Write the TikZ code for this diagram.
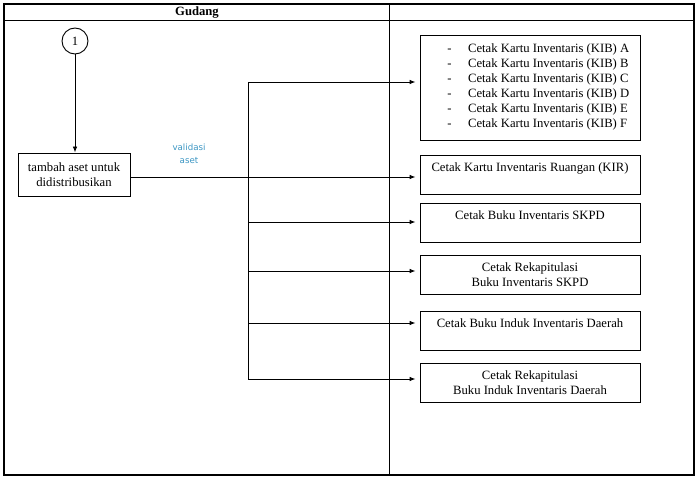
\documentclass[tikz,border=0pt]{standalone}
\usepackage{fontspec}
\setmainfont{Liberation Serif}
\newfontfamily\lblfont{DejaVu Sans}
\usetikzlibrary{arrows.meta}
\definecolor{lblblue}{RGB}{60,150,195}
\begin{document}
\begin{tikzpicture}[x=0.75pt,y=-0.75pt,
  txt/.style={font=\fontsize{9.5}{11.25}\selectfont},
  box/.style={draw, line width=0.7pt, minimum width=165pt, minimum height=29.25pt, align=center, inner sep=2pt, txt},
  conn/.style={line width=0.7pt},
  arr/.style={conn, -{Latex[length=4.5pt,width=3.5pt]}},
  frame/.style={line width=1.1pt},
  divider/.style={line width=0.7pt}]
\useasboundingbox (0,0) rectangle (699,484);
% frame
\draw[frame] (4,4) rectangle (694,475);
\draw[divider] (4,20) -- (694,20);
\draw[divider] (389,4) -- (389,475);
\node[font=\fontsize{9.5}{11}\selectfont\bfseries] (hdr) at (197,12.5) {Gudang};
% left lane
\node[draw, circle, line width=0.7pt, minimum size=19.5pt, inner sep=0pt, txt] (start) at (75,41) {1};
\node[box, minimum width=84pt, minimum height=32.25pt] (tambah) at (74,174.5) {tambah aset untuk\\didistribusikan};
\draw[arr] (start.south) -- (start.south |- tambah.north);
% right boxes
\node[draw, line width=0.7pt, minimum width=165pt, minimum height=78.75pt, inner sep=0pt] (kib) at (530,87.5) {};
\node[txt, anchor=north west, inner sep=0pt] (kibtxt) at (447,42) {%
  \begin{tabular}{@{}l@{\hspace{12.5pt}}l@{}}
  - & Cetak Kartu Inventaris (KIB) A\\
  - & Cetak Kartu Inventaris (KIB) B\\
  - & Cetak Kartu Inventaris (KIB) C\\
  - & Cetak Kartu Inventaris (KIB) D\\
  - & Cetak Kartu Inventaris (KIB) E\\
  - & Cetak Kartu Inventaris (KIB) F
  \end{tabular}};
\node[box] (kir) at (530,174.5) {Cetak Kartu Inventaris Ruangan (KIR)\\\mbox{}};
\node[box] (skpd) at (530,222.5) {Cetak Buku Inventaris SKPD\\\mbox{}};
\node[box] (rekskpd) at (530,274.5) {Cetak Rekapitulasi\\Buku Inventaris SKPD};
\node[box] (induk) at (530,330.5) {Cetak Buku Induk Inventaris Daerah\\\mbox{}};
\node[box] (rekinduk) at (530,382.5) {Cetak Rekapitulasi\\Buku Induk Inventaris Daerah};
% trunk
\coordinate (j1) at (248,82);
\coordinate (j2) at (248,177);
\coordinate (j3) at (248,222);
\coordinate (j4) at (248,271);
\coordinate (j5) at (248,323);
\coordinate (j6) at (248,379);
\draw[conn] (tambah.east |- j2) -- (j2);
\draw[conn] (j1) -- (j6);
\draw[arr, shorten >=3pt] (j1) -- (j1 -| kib.west);
\draw[arr, shorten >=3pt] (j2) -- (j2 -| kir.west);
\draw[arr, shorten >=3pt] (j3) -- (j3 -| skpd.west);
\draw[arr, shorten >=3pt] (j4) -- (j4 -| rekskpd.west);
\draw[arr, shorten >=3pt] (j5) -- (j5 -| induk.west);
\draw[arr, shorten >=3pt] (j6) -- (j6 -| rekinduk.west);
\node[align=center, text=lblblue, font=\lblfont\fontsize{6.5}{9.5}\selectfont] (valid) at (189,154) {validasi\\aset};
\end{tikzpicture}
\end{document}
